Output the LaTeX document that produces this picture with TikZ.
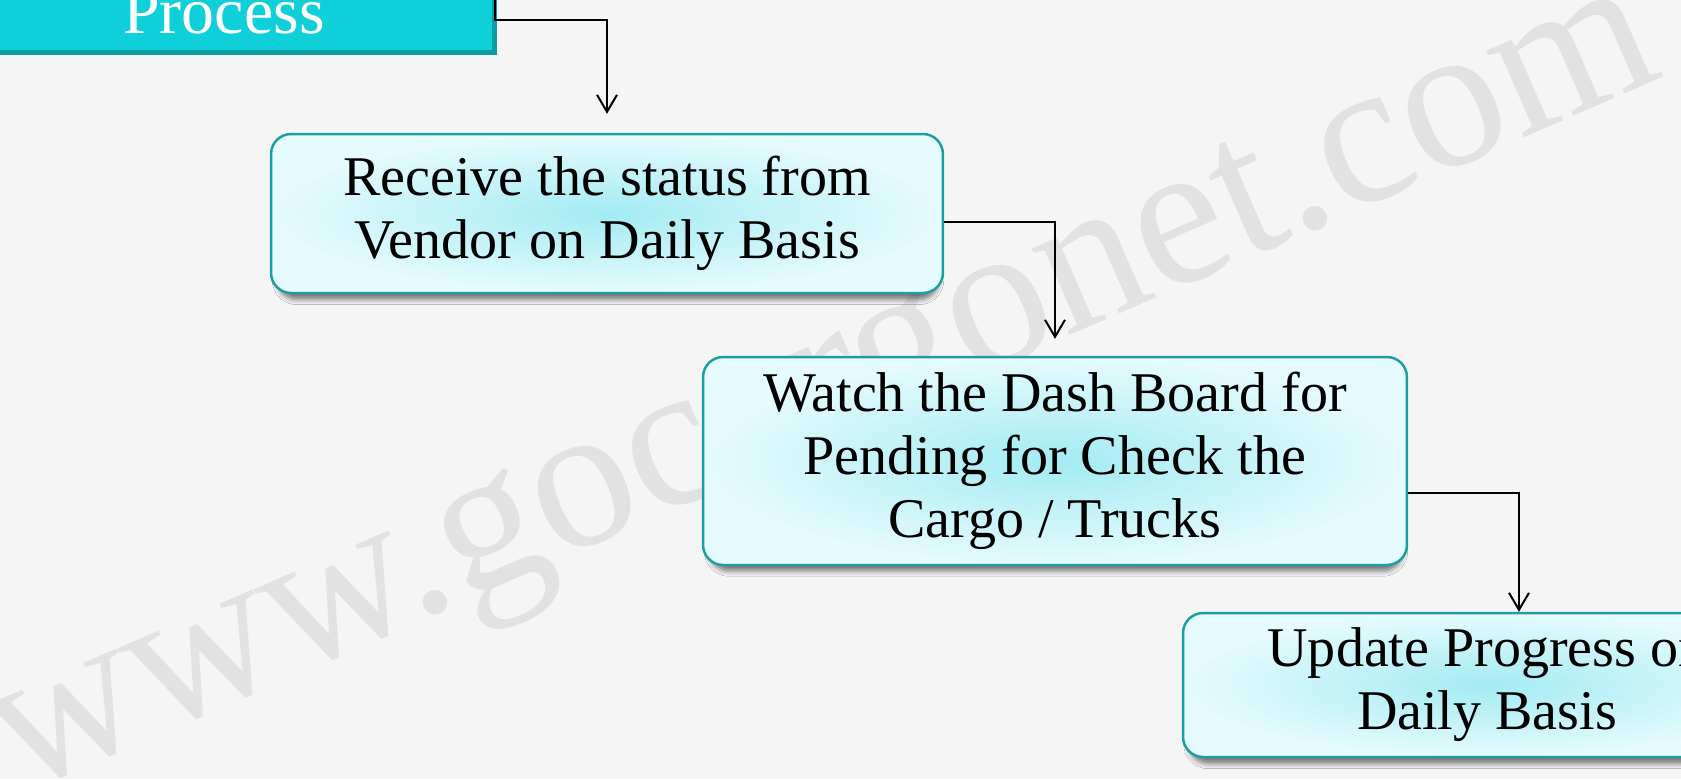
\documentclass[tikz,border=0pt]{standalone}
\usepackage{fontspec}
\setmainfont{Liberation Serif}
\usetikzlibrary{arrows.meta,shadows,shadows.blur}

\definecolor{bgGrey}{HTML}{F5F5F5}
\definecolor{markGrey}{HTML}{E2E2E2}
\definecolor{topCyan}{HTML}{0FCFD9}
\definecolor{topEdge}{HTML}{0A9DA1}
\definecolor{boxEdge}{HTML}{1B9FA3}
\definecolor{boxMid}{HTML}{A3EBF3}
\definecolor{boxOut}{HTML}{E6FBFD}

\begin{document}
\begin{tikzpicture}[x=0.02cm, y=-0.02cm,
    stepbox/.style={draw=boxEdge, line width=1.4pt, rounded corners=0.4cm,
      inner color=boxMid, outer color=boxOut, align=center, inner sep=0pt,
      font=\fontsize{31.9}{35.9}\selectfont,
      blur shadow={shadow xshift=0.02cm, shadow yshift=-0.16cm, shadow scale=0.985,
        shadow blur radius=0.1cm, shadow opacity=50}},
    flow/.style={-{Straight Barb[length=0.34cm, width=0.4cm]}, line width=0.04cm}]

    \useasboundingbox (0,0) rectangle (1681,779);
    \fill [bgGrey] (0,0) rectangle (1681,779);
    \clip (0,0) rectangle (1681,779);

    \node (mark) at (843,435) [rotate=23.6, anchor=base, inner sep=0pt, text=markGrey,
      font=\fontsize{117}{120}\selectfont] {www.gocargonet.com};

    % process boxes
    \node (top) at (224,17) [fill=topCyan, minimum width=10.72cm, minimum height=1.32cm,
      text height=0.88cm, text depth=0.24cm, inner sep=0pt, text=white,
      font=\fontsize{37.5}{40}\selectfont,
      drop shadow={shadow xshift=0.1cm, shadow yshift=-0.1cm, fill=topEdge, opacity=1}] {Process};

    \node (b2) at (607,213.5) [stepbox, minimum width=13.44cm, minimum height=3.18cm]
      {Receive the status from\\Vendor on Daily Basis};
    \node (b3) at (1055,461) [stepbox, minimum width=14.08cm, minimum height=4.16cm]
      {Watch the Dash Board for\\Pending for Check the\\Cargo / Trucks};
    \node (b4) at (1487,685) [stepbox, minimum width=12.16cm, minimum height=2.88cm]
      {Update Progress on\\Daily Basis};

    % connectors
    \coordinate (k1) at (495,20);
    \coordinate (k4) at ([xshift=0.64cm]b4.north);
    \draw [flow, shorten >=0.38cm] (k1 |- top.north) -- (k1) -| (b2.north);
    \draw [flow, shorten >=0.34cm] ([yshift=-0.17cm]b2.east) -| (b3.north);
    \draw [flow] ([yshift=-0.64cm]b3.east) -| (k4);
  \end{tikzpicture}
\end{document}
